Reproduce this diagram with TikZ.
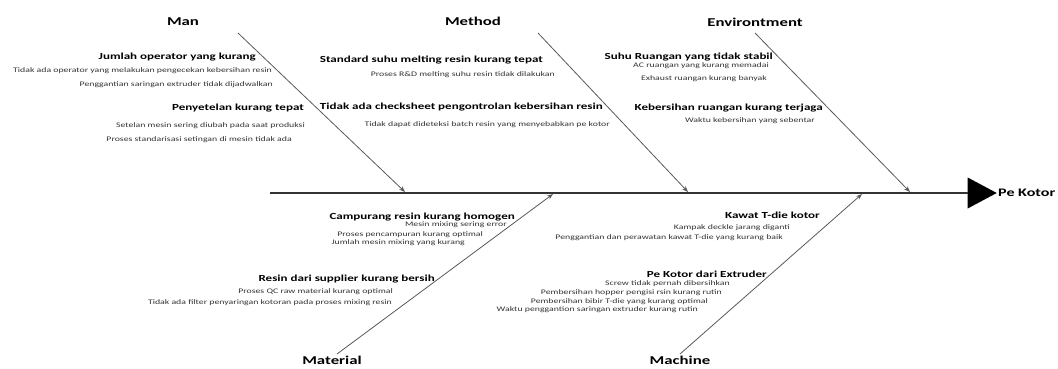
\documentclass[tikz,border=0pt]{standalone}
\usepackage{fontspec}
\setmainfont{Carlito}[FakeStretch=1.4]
\usetikzlibrary{arrows.meta,shapes.geometric}
\tikzset{
  cat/.style={font=\bfseries\fontsize{12}{14}\selectfont, inner sep=0pt},
  cause/.style={font=\bfseries\fontsize{9.3}{11}\selectfont, inner sep=0pt, anchor=east},
  sub/.style={font=\fontsize{7}{8}\selectfont, inner sep=0pt, text=black!80, anchor=east},
  bone/.style={draw=black!65, line width=0.8pt, -{Stealth[length=6pt,width=4.5pt]}},
}
\begin{document}
\begin{tikzpicture}[x=1pt,y=-1pt]
\useasboundingbox (0,0) rectangle (1058,369);

% spine and head
\coordinate (tail) at (270,193);
\node (head) at (977,193) [isosceles triangle, fill=black, inner sep=0pt,
  minimum height=29pt, minimum width=31pt, isosceles triangle stretches] {};
\node (effect) at (998,193) [anchor=west, font=\bfseries\fontsize{11.5}{13}\selectfont, inner sep=0pt] {Pe Kotor};
\draw[black!80, line width=1.6pt] (tail) -- (head.west);

% categories
\node[cat] (man) at (183,22) {Man};
\node[cat] (method) at (473,21) {Method};
\node[cat] (env) at (755,22) {Environtment};
\node[cat] (mat) at (332,360) {Material};
\node[cat] (mach) at (680,360) {Machine};

\coordinate (manT) at (238,33);
\coordinate (manH) at (405,192);
\coordinate (metT) at (538,33);
\coordinate (metH) at (688,192);
\coordinate (envT) at (755,33);
\coordinate (envH) at (910,192);
\coordinate (matT) at (337,354);
\coordinate (matH) at (553,194);
\coordinate (macT) at (680,354);
\coordinate (macH) at (862,194);

\draw[bone] (manT) -- (manH);
\draw[bone] (metT) -- (metH);
\draw[bone] (envT) -- (envH);
\draw[bone] (matT) -- (matH);
\draw[bone] (macT) -- (macH);

% Man
\node[cause] (m1) at (256,57) {Jumlah operator yang kurang};
\node[sub] (m11) at (272,71) {Tidak ada operator yang melakukan pengecekan kebersihan resin};
\node[sub] (m12) at (273,85) {Penggantian saringan extruder tidak dijadwalkan};
\node[cause] (m2) at (304,108) {Penyetelan kurang tepat};
\node[sub] (m21) at (305,126) {Setelan mesin sering diubah pada saat produksi};
\node[sub] (m22) at (292,140) {Proses standarisasi setingan di mesin tidak ada};

% Method
\node[cause] (t1) at (543,60) {Standard suhu melting resin kurang tepat};
\node[sub] (t11) at (555,75) {Proses R\&D melting suhu resin tidak dilakukan};
\node[cause] (t2) at (603,107) {Tidak ada checksheet pengontrolan kebersihan resin};
\node[sub] (t21) at (610,125) {Tidak dapat dideteksi batch resin yang menyebabkan pe kotor};

% Environtment
\node[cause] (e1) at (773,57) {Suhu Ruangan yang tidak stabil};
\node[sub] (e11) at (769,66) {AC ruangan yang kurang memadai};
\node[sub] (e12) at (767,79) {Exhaust ruangan kurang banyak};
\node[cause] (e2) at (823,108) {Kebersihan ruangan kurang terjaga};
\node[sub] (e21) at (815,121) {Waktu kebersihan yang sebentar};

% Material
\node[cause] (a1) at (515,217) {Campurang resin kurang homogen};
\node[sub] (a11) at (507,225) {Mesin mixing sering error};
\node[sub] (a12) at (483,235) {Proses pencampuran kurang optimal};
\node[sub] (a13) at (465,243) {Jumlah mesin mixing yang kurang};
\node[cause] (a2) at (435,279) {Resin dari supplier kurang bersih};
\node[sub] (a21) at (393,292) {Proses QC raw material kurang optimal};
\node[sub] (a22) at (392,303) {Tidak ada filter penyaringan kotoran pada proses mixing resin};

% Machine
\node[cause] (c1) at (820,215) {Kawat T-die kotor};
\node[sub] (c11) at (790,228) {Kampak deckle jarang diganti};
\node[sub] (c12) at (783,238) {Penggantian dan perawatan kawat T-die yang kurang baik};
\node[cause] (c2) at (767,274) {Pe Kotor dari Extruder};
\node[sub] (c21) at (730,284) {Screw tidak pernah dibersihkan};
\node[sub] (c22) at (722,293) {Pembersihan hopper pengisi rsin kurang rutin};
\node[sub] (c23) at (708,302) {Pembersihan bibir T-die yang kurang optimal};
\node[sub] (c24) at (698,310) {Waktu penggantion saringan extruder kurang rutin};
\end{tikzpicture}
\end{document}
